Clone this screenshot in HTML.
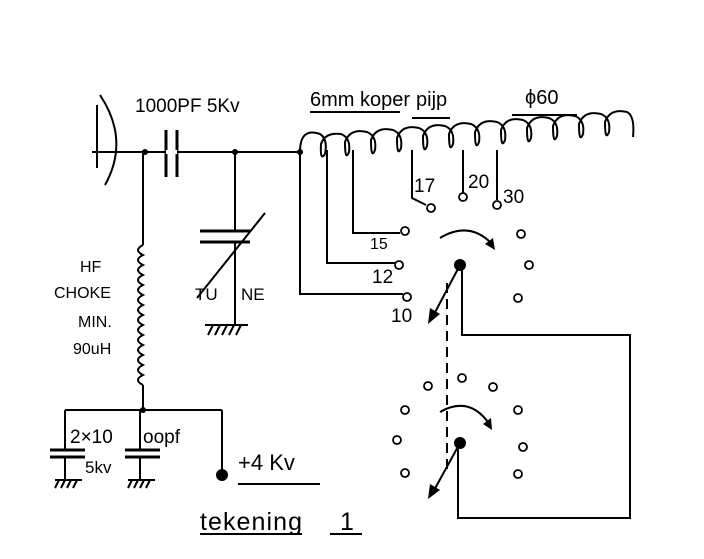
<!DOCTYPE html>
<html><head><style>body{margin:0;background:#fff}svg{display:block}text{font-family:"Liberation Sans",sans-serif;fill:#000}</style></head>
<body>
<svg width="704" height="559" viewBox="0 0 704 559" xmlns="http://www.w3.org/2000/svg">
<g stroke="#000" stroke-width="2" fill="none">
<line x1="97" y1="105" x2="97" y2="168"/>
<path d="M100,95 Q130,140 105,185"/>
<line x1="92" y1="152" x2="300" y2="152"/>
<line x1="166" y1="130" x2="166" y2="177" stroke-width="3"/>
<line x1="177" y1="130" x2="177" y2="177" stroke-width="3"/>
<line x1="166" y1="152" x2="177" y2="152" stroke="#fff" stroke-width="4"/>
<line x1="143" y1="152" x2="143" y2="245"/>
<path d="M143,245 q-10,5 0,10 q-10,5 0,10 q-10,5 0,10 q-10,5 0,10 q-10,5 0,10 q-10,5 0,10 q-10,5 0,10 q-10,5 0,10 q-10,5 0,10 q-10,5 0,10 q-10,5 0,10 q-10,5 0,10 q-10,5 0,10 q-10,5 0,10"/>
<line x1="143" y1="385" x2="143" y2="410"/>
<line x1="235" y1="152" x2="235" y2="231"/>
<line x1="235" y1="242" x2="235" y2="325"/>
<line x1="200" y1="231" x2="250" y2="231" stroke-width="3"/>
<line x1="200" y1="242" x2="250" y2="242" stroke-width="3"/>
<line x1="197" y1="298" x2="265" y2="213"/>
<line x1="205" y1="325" x2="248" y2="325"/>
<path d="M208,335 l5,-10 M215,335 l5,-10 M222,335 l5,-10 M229,335 l5,-10 M236,335 l5,-10"/>
<path d="M300,152 q0,-25 20,-18 q8,5 5,20 q-5,8 -4,-10 q4,-12 20,-10 q10,4 8,18 q-4,10 -4,-10 q5,-14 22,-10 q10,4 8,18 q-4,10 -4,-10 q5,-14 22,-10 q10,4 8,18 q-4,10 -4,-10 q5,-14 22,-10 q10,4 8,18 q-4,10 -4,-10 q5,-14 22,-10 q10,4 8,18 q-4,10 -4,-10 q5,-14 22,-10 q10,4 8,18 q-4,10 -4,-10 q5,-14 22,-10 q10,4 8,18 q-4,10 -4,-10 q5,-14 22,-10 q10,4 8,18 q-4,10 -4,-10 q5,-14 22,-10 q10,4 8,18 q-4,10 -4,-10 q5,-14 22,-10 q10,4 8,18 q-4,10 -4,-10 q5,-14 22,-10 q10,4 8,18 q-4,10 -4,-10 q5,-14 22,-10 q8,4 6,25"/>
<polyline points="300,152 300,294 403,294"/>
<polyline points="327,150 327,263 395,263"/>
<polyline points="353,150 353,233 400,233"/>
<polyline points="412,150 412,198 426,205"/>
<line x1="463" y1="150" x2="463" y2="193"/>
<line x1="497" y1="150" x2="497" y2="200"/>
<g stroke-width="1.8">
<circle cx="407" cy="297" r="4"/><circle cx="399" cy="265" r="4"/><circle cx="405" cy="231" r="4"/>
<circle cx="431" cy="208" r="4"/><circle cx="463" cy="197" r="4"/><circle cx="497" cy="205" r="4"/>
<circle cx="521" cy="234" r="4"/><circle cx="529" cy="265" r="4"/><circle cx="518" cy="298" r="4"/>
<circle cx="405" cy="410" r="4"/><circle cx="428" cy="386" r="4"/><circle cx="462" cy="378" r="4"/>
<circle cx="493" cy="387" r="4"/><circle cx="518" cy="410" r="4"/><circle cx="397" cy="440" r="4"/>
<circle cx="523" cy="447" r="4"/><circle cx="405" cy="473" r="4"/><circle cx="518" cy="474" r="4"/>
</g>
<line x1="460" y1="265" x2="432" y2="318"/>
<line x1="460" y1="443" x2="432" y2="494"/>
<path d="M440,238 Q470,220 493,245"/>
<path d="M440,412 Q470,395 490,425"/>
<polyline points="462,265 462,335 630,335 630,518 458,518 458,443"/>
<line x1="447" y1="283" x2="447" y2="475" stroke-dasharray="10,6"/>
<line x1="65" y1="410" x2="222" y2="410"/>
<line x1="65" y1="410" x2="65" y2="450"/><line x1="65" y1="457" x2="65" y2="480"/>
<line x1="140" y1="410" x2="140" y2="450"/><line x1="140" y1="457" x2="140" y2="480"/>
<line x1="50" y1="450" x2="85" y2="450" stroke-width="3"/><line x1="50" y1="457" x2="85" y2="457" stroke-width="3"/>
<line x1="125" y1="450" x2="160" y2="450" stroke-width="3"/><line x1="125" y1="457" x2="160" y2="457" stroke-width="3"/>
<line x1="55" y1="480" x2="82" y2="480"/><line x1="128" y1="480" x2="155" y2="480"/>
<path d="M55,488 l4,-8 M61,488 l4,-8 M67,488 l4,-8 M73,488 l4,-8 M128,488 l4,-8 M134,488 l4,-8 M140,488 l4,-8 M146,488 l4,-8"/>
<line x1="222" y1="410" x2="222" y2="472"/>
<line x1="310" y1="112" x2="400" y2="112"/><line x1="412" y1="118" x2="450" y2="118"/><line x1="512" y1="115" x2="577" y2="115"/>
<line x1="238" y1="484" x2="320" y2="484"/><line x1="200" y1="534" x2="302" y2="534"/><line x1="330" y1="534" x2="362" y2="534"/>
</g>
<g fill="#000">
<circle cx="145" cy="152" r="3"/><circle cx="235" cy="152" r="3"/><circle cx="300" cy="152" r="3"/><circle cx="143" cy="410" r="3"/>
<circle cx="460" cy="265" r="6"/><circle cx="460" cy="443" r="6"/><circle cx="222" cy="475" r="6"/>
<polygon points="428,324 430,308 440,314"/><polygon points="428,499 430,484 440,490"/>
<polygon points="495,250 485,244 493,238"/><polygon points="492,430 483,424 491,418"/>
</g>
<g font-size="19">
<text x="135" y="112">1000PF 5Kv</text>
<text x="310" y="106" font-size="20">6mm koper</text>
<text x="416" y="106" font-size="20">pijp</text>
<text x="525" y="104" font-size="20">ϕ60</text>
<text x="414" y="192" font-family="Liberation Serif">17</text>
<text x="468" y="188">20</text><text x="503" y="203">30</text>
<text x="370" y="249" font-size="16" font-family="Liberation Serif">15</text>
<text x="372" y="283" font-family="Liberation Serif">12</text>
<text x="391" y="322" font-family="Liberation Serif">10</text>
<text x="80" y="272" font-size="16">HF</text>
<text x="54" y="298" font-size="16">CHOKE</text>
<text x="78" y="327" font-size="16">MIN.</text>
<text x="73" y="354" font-size="16">90uH</text>
<text x="195" y="300" font-size="17">TU</text><text x="241" y="300" font-size="17">NE</text>
<text x="70" y="443" font-size="19">2×10</text><text x="143" y="443" font-size="19">oopf</text>
<text x="85" y="473" font-size="17">5kv</text>
<text x="238" y="470" font-size="22">+4 Kv</text>
<text x="200" y="530" font-size="25" textLength="102">tekening</text>
<text x="340" y="530" font-size="25">1</text>
</g>
</svg>
</body></html>
